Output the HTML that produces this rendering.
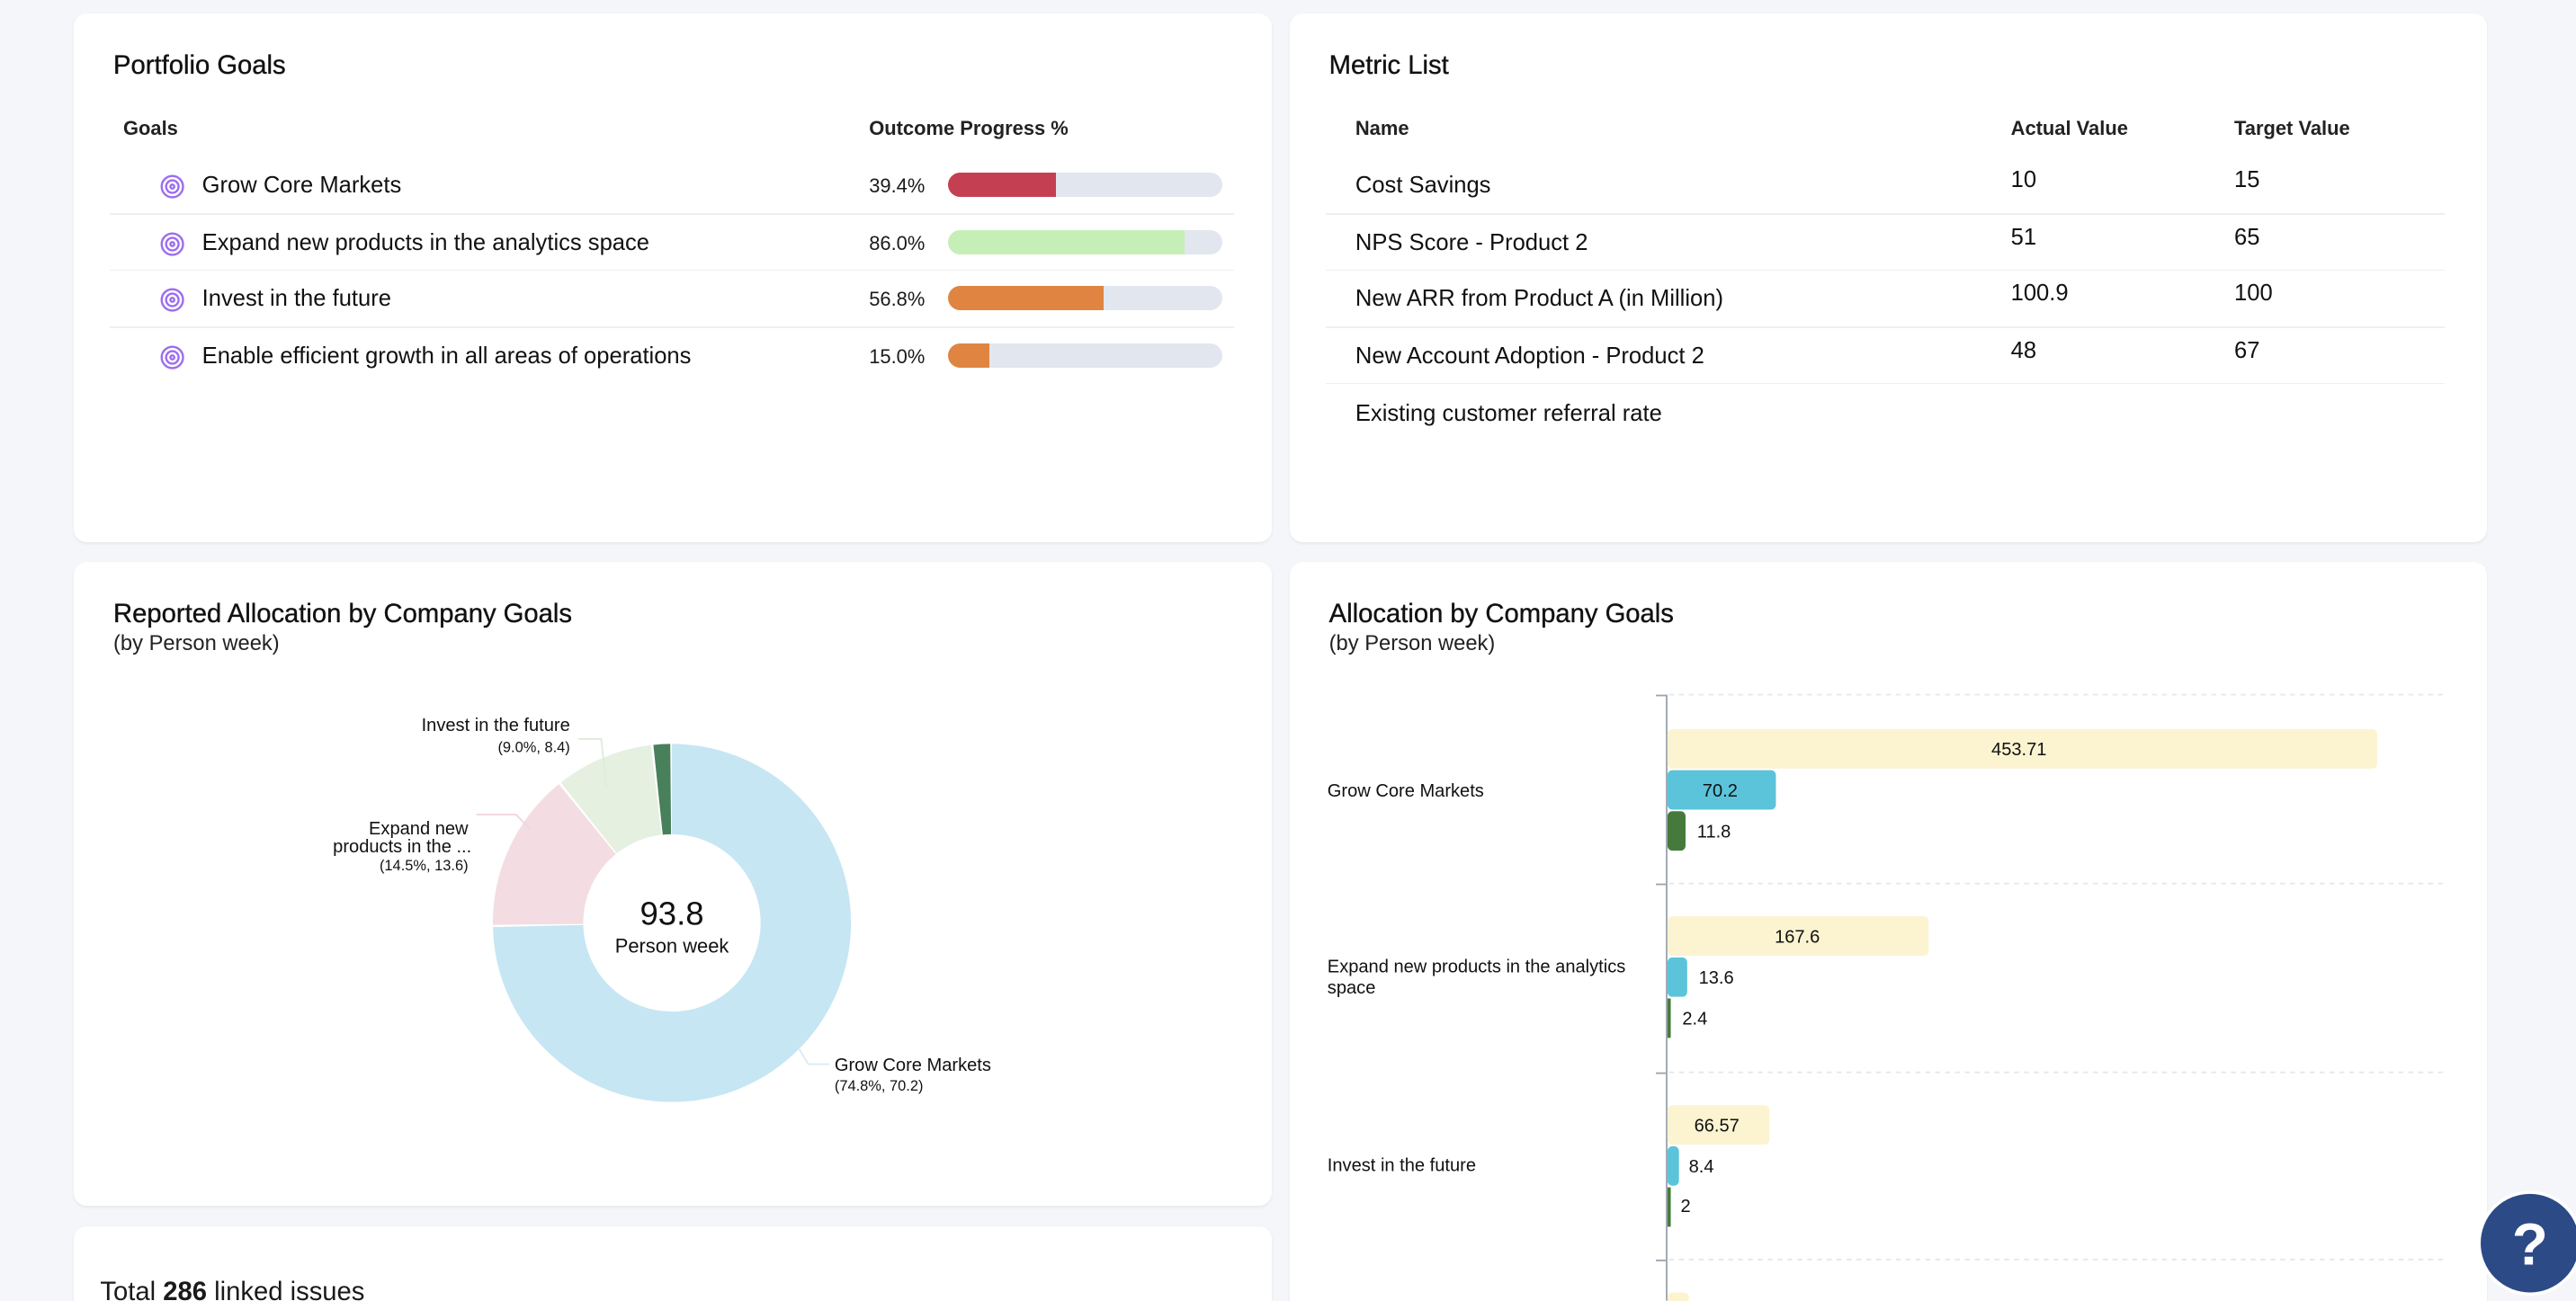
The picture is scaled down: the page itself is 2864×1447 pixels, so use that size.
<!DOCTYPE html>
<html><head><meta charset="utf-8"><style>
html,body{margin:0;padding:0;}
body{width:2864px;height:1446px;overflow:hidden;background:#f4f6fa;font-family:"Liberation Sans",sans-serif;color:#1a1a1a;}
#w{position:absolute;left:0;top:0;width:1568px;height:792px;zoom:1.8265;overflow:hidden;}
.card{position:absolute;background:#fff;border-radius:8px;box-shadow:0 1px 2px rgba(0,0,0,.06);}
.a{position:absolute;white-space:nowrap;}
.h{font-size:16px;color:#111;-webkit-text-stroke:0.2px #111;}
.th{font-size:12px;font-weight:bold;color:#222;}
.row{font-size:14px;color:#111;}
.sep{position:absolute;height:1px;background:#efefef;}
.bar{position:absolute;height:15px;border-radius:8px;background:#e2e6ee;overflow:hidden;width:167px;left:577px;}
.bar i{display:block;height:100%;}
.pct{font-size:12px;}
</style></head><body><div id="w">

<div class="card" style="left:45px;top:8px;width:729px;height:322px;"></div>
<div class="a h" style="left:69px;top:31px;">Portfolio Goals</div>
<div class="a th" style="left:75px;top:71px;">Goals</div>
<div class="a th" style="left:529px;top:71px;">Outcome Progress %</div>
<svg class="a" style="left:97px;top:105px" width="16" height="16" viewBox="0 0 16 16"><g fill="none" stroke="#9b6cf0" stroke-width="1.3"><circle cx="8" cy="8.5" r="6.5"/><circle cx="8" cy="8.5" r="3.8"/><circle cx="8" cy="8.5" r="1.2"/></g></svg>
<svg class="a" style="left:97px;top:140px" width="16" height="16" viewBox="0 0 16 16"><g fill="none" stroke="#9b6cf0" stroke-width="1.3"><circle cx="8" cy="8.5" r="6.5"/><circle cx="8" cy="8.5" r="3.8"/><circle cx="8" cy="8.5" r="1.2"/></g></svg>
<svg class="a" style="left:97px;top:174px" width="16" height="16" viewBox="0 0 16 16"><g fill="none" stroke="#9b6cf0" stroke-width="1.3"><circle cx="8" cy="8.5" r="6.5"/><circle cx="8" cy="8.5" r="3.8"/><circle cx="8" cy="8.5" r="1.2"/></g></svg>
<svg class="a" style="left:97px;top:209px" width="16" height="16" viewBox="0 0 16 16"><g fill="none" stroke="#9b6cf0" stroke-width="1.3"><circle cx="8" cy="8.5" r="6.5"/><circle cx="8" cy="8.5" r="3.8"/><circle cx="8" cy="8.5" r="1.2"/></g></svg>
<div class="a row" style="left:123px;top:105px;">Grow Core Markets</div>
<div class="a row" style="left:123px;top:140px;">Expand new products in the analytics space</div>
<div class="a row" style="left:123px;top:174px;">Invest in the future</div>
<div class="a row" style="left:123px;top:209px;">Enable efficient growth in all areas of operations</div>
<div class="a pct" style="left:529px;top:106px;">39.4%</div>
<div class="a pct" style="left:529px;top:141px;">86.0%</div>
<div class="a pct" style="left:529px;top:175px;">56.8%</div>
<div class="a pct" style="left:529px;top:210px;">15.0%</div>
<div class="bar" style="top:105px"><i style="width:66px;background:#c43f52"></i></div>
<div class="bar" style="top:140px"><i style="width:144px;background:#c6efb8"></i></div>
<div class="bar" style="top:174px"><i style="width:95px;background:#df8541"></i></div>
<div class="bar" style="top:209px"><i style="width:25px;background:#df8541"></i></div>
<div class="sep" style="left:67px;top:130px;width:684px"></div>
<div class="sep" style="left:67px;top:164px;width:684px"></div>
<div class="sep" style="left:67px;top:199px;width:684px"></div>

<div class="card" style="left:785px;top:8px;width:729px;height:322px;"></div>
<div class="a h" style="left:809px;top:31px;">Metric List</div>
<div class="a th" style="left:825px;top:71px;">Name</div>
<div class="a th" style="left:1224px;top:71px;">Actual Value</div>
<div class="a th" style="left:1360px;top:71px;">Target Value</div>
<div class="a row" style="left:825px;top:105px;">Cost Savings</div>
<div class="a row" style="left:825px;top:140px;">NPS Score - Product 2</div>
<div class="a row" style="left:825px;top:174px;">New ARR from Product A (in Million)</div>
<div class="a row" style="left:825px;top:209px;">New Account Adoption - Product 2</div>
<div class="a row" style="left:825px;top:244px;">Existing customer referral rate</div>
<div class="a row" style="left:1224px;top:102px;">10</div><div class="a row" style="left:1360px;top:102px;">15</div>
<div class="a row" style="left:1224px;top:137px;">51</div><div class="a row" style="left:1360px;top:137px;">65</div>
<div class="a row" style="left:1224px;top:171px;">100.9</div><div class="a row" style="left:1360px;top:171px;">100</div>
<div class="a row" style="left:1224px;top:206px;">48</div><div class="a row" style="left:1360px;top:206px;">67</div>
<div class="sep" style="left:807px;top:130px;width:681px"></div>
<div class="sep" style="left:807px;top:164px;width:681px"></div>
<div class="sep" style="left:807px;top:199px;width:681px"></div>
<div class="sep" style="left:807px;top:233px;width:681px"></div>

<div class="card" style="left:45px;top:342px;width:729px;height:392px;"></div>
<div class="a h" style="left:69px;top:365px;">Reported Allocation by Company Goals</div>
<div class="a" style="left:69px;top:385px;font-size:13px;color:#222">(by Person week)</div>
<svg class="a" style="left:0;top:0" width="780" height="740">
<g transform="rotate(-90 409 562)" fill="none" stroke-width="55">
<circle cx="409" cy="562" r="81.5" stroke="#c6e6f3" stroke-dasharray="382 1000" stroke-dashoffset="0"/>
<circle cx="409" cy="562" r="81.5" stroke="#f3dde2" stroke-dasharray="73.2 1000" stroke-dashoffset="-383"/>
<circle cx="409" cy="562" r="81.5" stroke="#e6f0e1" stroke-dasharray="45 1000" stroke-dashoffset="-457.3"/>
<circle cx="409" cy="562" r="81.5" stroke="#47805a" stroke-dasharray="7.7 1000" stroke-dashoffset="-503.4"/>
</g>
<g stroke="#d8ecf5" fill="none"><polyline points="486,638 492,648 505,648"/></g>
<g stroke="#f0d6dc" fill="none"><polyline points="323,505 314,496 290,496"/></g>
<g stroke="#e0ebdc" fill="none"><polyline points="369,479 366,450 352,450"/></g>
<text x="409" y="563" font-size="20" text-anchor="middle" fill="#111" font-family="Liberation Sans">93.8</text>
<text x="409" y="580" font-size="12" text-anchor="middle" fill="#111" font-family="Liberation Sans">Person week</text>
<text x="347" y="445" font-size="11" text-anchor="end" fill="#111" font-family="Liberation Sans">Invest in the future</text>
<text x="347" y="458" font-size="9" text-anchor="end" fill="#111" font-family="Liberation Sans">(9.0%, 8.4)</text>
<text x="285" y="508" font-size="11" text-anchor="end" fill="#111" font-family="Liberation Sans">Expand new</text>
<text x="287" y="519" font-size="11" text-anchor="end" fill="#111" font-family="Liberation Sans">products in the ...</text>
<text x="285" y="530" font-size="9" text-anchor="end" fill="#111" font-family="Liberation Sans">(14.5%, 13.6)</text>
<text x="508" y="652" font-size="11" fill="#111" font-family="Liberation Sans">Grow Core Markets</text>
<text x="508" y="664" font-size="9" fill="#111" font-family="Liberation Sans">(74.8%, 70.2)</text>
</svg>

<div class="card" style="left:45px;top:747px;width:729px;height:60px;"></div>
<div class="a" style="left:61px;top:778px;font-size:16px;">Total <b>286</b> linked issues</div>

<div class="card" style="left:785px;top:342px;width:729px;height:470px;"></div>
<div class="a h" style="left:809px;top:365px;">Allocation by Company Goals</div>
<div class="a" style="left:809px;top:385px;font-size:13px;color:#222">(by Person week)</div>
<svg class="a" style="left:0;top:0" width="1568" height="792" font-family="Liberation Sans">
<g stroke="#e4e7ec" stroke-dasharray="3 3"><line x1="1016" y1="423" x2="1488" y2="423"/><line x1="1016" y1="538" x2="1488" y2="538"/><line x1="1016" y1="653" x2="1488" y2="653"/><line x1="1016" y1="767" x2="1488" y2="767"/></g>
<line x1="1014.5" y1="423" x2="1014.5" y2="792" stroke="#9aa3ad"/>
<g stroke="#9aa3ad"><line x1="1008" y1="423.5" x2="1014" y2="423.5"/><line x1="1008" y1="538.5" x2="1014" y2="538.5"/><line x1="1008" y1="653.5" x2="1014" y2="653.5"/><line x1="1008" y1="767.5" x2="1014" y2="767.5"/></g>
<rect x="1015" y="444" width="432" height="24" rx="3" fill="#fcf3d1"/>
<rect x="1015" y="469" width="66" height="24" rx="3" fill="#5bc4da"/>
<rect x="1015" y="494" width="11" height="24" rx="3" fill="#467a3c"/>
<rect x="1015" y="558" width="159" height="24" rx="3" fill="#fcf3d1"/>
<rect x="1015" y="583" width="12" height="24" rx="3" fill="#5bc4da"/>
<rect x="1015" y="608" width="2" height="24" fill="#467a3c"/>
<rect x="1015" y="673" width="62" height="24" rx="3" fill="#fcf3d1"/>
<rect x="1015" y="698" width="7" height="24" rx="3" fill="#5bc4da"/>
<rect x="1015" y="723" width="2" height="24" fill="#467a3c"/>
<rect x="1015" y="787" width="13" height="10" rx="3" fill="#fcf3d1"/>
<g font-size="11" fill="#111">
<text x="1229" y="460" text-anchor="middle">453.71</text>
<text x="1047" y="485" text-anchor="middle">70.2</text>
<text x="1033" y="510">11.8</text>
<text x="1094" y="574" text-anchor="middle">167.6</text>
<text x="1034" y="599">13.6</text>
<text x="1024" y="624">2.4</text>
<text x="1045" y="689" text-anchor="middle">66.57</text>
<text x="1028" y="714">8.4</text>
<text x="1023" y="738">2</text>
<text x="808" y="485">Grow Core Markets</text>
<text x="808" y="592">Expand new products in the analytics</text>
<text x="808" y="605">space</text>
<text x="808" y="713">Invest in the future</text>
</g>
<circle cx="1540" cy="757" r="31" fill="#2c4a85" stroke="#fff" stroke-width="2"/>
<text x="1540" y="770" font-size="36" font-weight="bold" fill="#fff" text-anchor="middle">?</text>
</svg>
</div></body></html>
